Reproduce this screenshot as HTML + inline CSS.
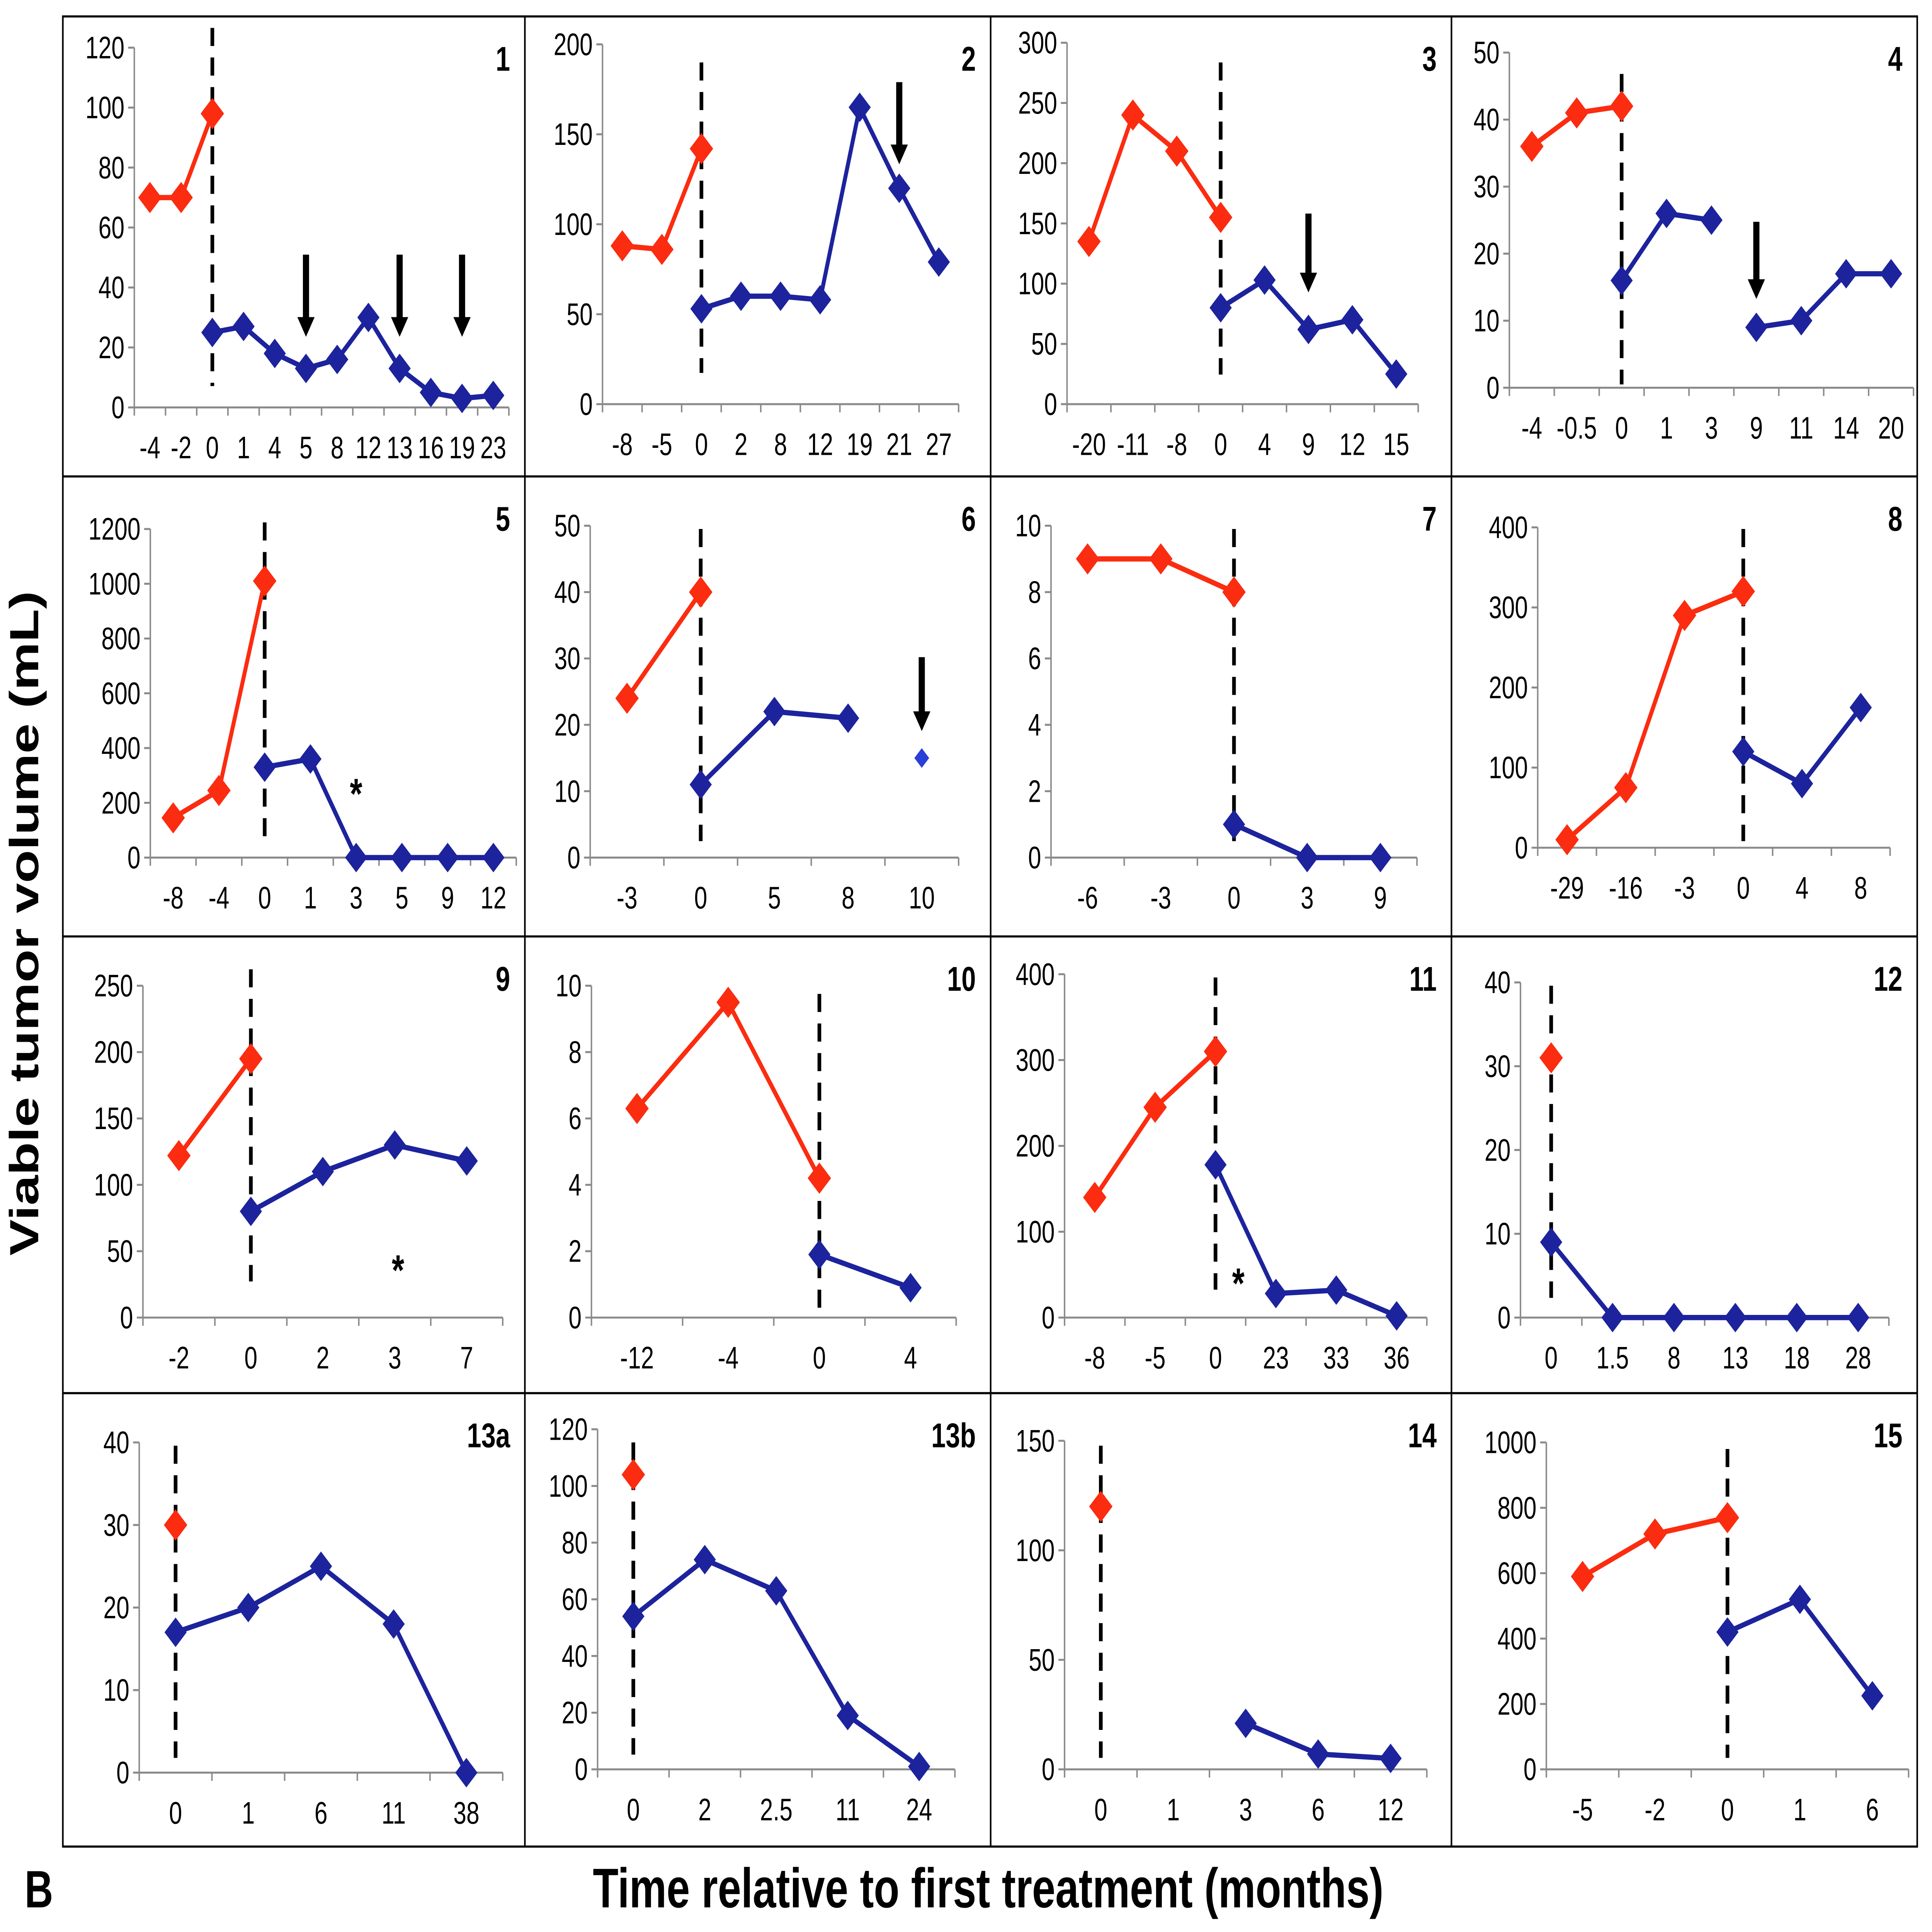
<!DOCTYPE html>
<html><head><meta charset="utf-8"><style>
html,body{margin:0;padding:0;background:#fff;overflow:hidden;width:100%;height:100%}
svg{display:block;position:absolute;left:0;top:0;width:100vw;height:100vh}
</style></head><body>
<svg id="chart" viewBox="0 0 1568 1176" preserveAspectRatio="none" xmlns="http://www.w3.org/2000/svg" font-family="Liberation Sans, Arial, sans-serif">
<rect x="0" y="0" width="1568" height="1176" fill="#fff"/>
<g id="grid" stroke="#000" stroke-width="1.3" fill="none">
<rect x="51" y="10" width="1505" height="1114"/>
<line x1="426" y1="10" x2="426" y2="1124"/><line x1="804" y1="10" x2="804" y2="1124"/><line x1="1178" y1="10" x2="1178" y2="1124"/>
<line x1="51" y1="290" x2="1556" y2="290"/><line x1="51" y1="570" x2="1556" y2="570"/><line x1="51" y1="848" x2="1556" y2="848"/>
</g>
<text x="0" y="0" transform="translate(31,562) rotate(-90)" text-anchor="middle" font-weight="bold" font-size="33">Viable tumor volume (mL)</text>
<text x="802" y="1161" text-anchor="middle" font-weight="bold" font-size="34">Time relative to first treatment (months)</text>
<text x="20" y="1161" font-weight="bold" font-size="32">B</text>
<g id="plots"></g>
</svg>
<script>
// ---- data ----
const p1Cats=["-4","-2","0","1","4","5","8","12","13","16","19","23"];
const p1Red=[70,70,98];
const p1Blue=[[2,25],[3,27],[4,18],[5,13],[6,16],[7,30],[8,13],[9,5],[10,3],[11,4]];
const p2Cats=["-8","-5","0","2","8","12","19","21","27"];
const p2Red=[88,86,142];
const p2Blue=[[2,53],[3,60],[4,60],[5,58],[6,165],[7,120],[8,79]];
const p3Cats=["-20","-11","-8","0","4","9","12","15"];
const p3Red=[135,240,210,155];
const p3Blue=[[3,80],[4,103],[5,62],[6,70],[7,25]];
const p4Cats=["-4","-0.5","0","1","3","9","11","14","20"];
const p4Red=[36,41,42];
const p4Blue=[[2,16],[3,26],[4,25]];
const p4Blue2=[[5,9],[6,10],[7,17],[8,17]];
const p5Cats=["-8","-4","0","1","3","5","9","12"];
const p5Red=[145,245,1010];
const p5Blue=[[2,330],[3,360],[4,0],[5,0],[6,0],[7,0]];
const p6Cats=["-3","0","5","8","10"];
const p6Red=[24,40];
const p6Blue=[[1,11],[2,22],[3,21]];
const p6Lone=[[4,15]];
const p7Cats=["-6","-3","0","3","9"];
const p7Red=[9,9,8];
const p7Blue=[[2,1],[3,0],[4,0]];
const p8Cats=["-29","-16","-3","0","4","8"];
const p8Red=[10,75,290,320];
const p8Blue=[[3,120],[4,80],[5,175]];
const p9Cats=["-2","0","2","3","7"];
const p9Red=[122,195];
const p9Blue=[[1,80],[2,110],[3,130],[4,118]];
const p10Cats=["-12","-4","0","4"];
const p10Red=[6.3,9.5,4.2];
const p10Blue=[[2,1.9],[3,0.9]];
const p11Cats=["-8","-5","0","23","33","36"];
const p11Red=[140,245,310];
const p11Blue=[[2,178],[3,28],[4,32],[5,2]];
const p12Cats=["0","1.5","8","13","18","28"];
const p12Red=[31];
const p12Blue=[[0,9],[1,0],[2,0],[3,0],[4,0],[5,0]];
const p13aCats=["0","1","6","11","38"];
const p13aRed=[30];
const p13aBlue=[[0,17],[1,20],[2,25],[3,18],[4,0]];
const p13bCats=["0","2","2.5","11","24"];
const p13bRed=[104];
const p13bBlue=[[0,54],[1,74],[2,63],[3,19],[4,1]];
const p14Cats=["0","1","3","6","12"];
const p14Red=[120];
const p14Blue=[[2,21],[3,7],[4,5]];
const p15Cats=["-5","-2","0","1","6"];
const p15Red=[590,720,770];
const p15Blue=[[2,420],[3,520],[4,225]];

const yMaxes=[120,200,300,50,1200,50,10,400,250,10,400,40,40,120,150,1000];
const yStepsList=[20,50,50,10,200,10,2,100,50,2,100,10,10,20,50,200];

// ---- layout (geometry only) ----
const panels=[
 {id:"1",cats:p1Cats,red:p1Red,blue:[p1Blue],dash:2,dashY:[17,235],arrows:[5,8,10],arrowY:[155,205],x0:109,x1:413,yb:248,yt:29,px:426,py:10},
 {id:"2",cats:p2Cats,red:p2Red,blue:[p2Blue],dash:2,dashY:[38,227],arrows:[7],arrowY:[50,100],x0:489,x1:778,yb:246,yt:27,px:804,py:10},
 {id:"3",cats:p3Cats,red:p3Red,blue:[p3Blue],dash:3,dashY:[38,228],arrows:[5],arrowY:[130,178],x0:866,x1:1151,yb:246,yt:26,px:1178,py:10},
 {id:"4",cats:p4Cats,red:p4Red,blue:[p4Blue,p4Blue2],dash:2,dashY:[45,234],arrows:[5],arrowY:[135,182],x0:1225,x1:1553,yb:236,yt:32,px:1556,py:10},
 {id:"5",cats:p5Cats,red:p5Red,blue:[p5Blue],dash:2,dashY:[318,512],star:[289,480],x0:122,x1:419,yb:522,yt:322,px:426,py:290},
 {id:"6",cats:p6Cats,red:p6Red,blue:[p6Blue],lone:p6Lone,dash:1,dashY:[322,512],arrows:[4],arrowY:[400,445],x0:479,x1:778,yb:522,yt:320,px:804,py:290},
 {id:"7",cats:p7Cats,red:p7Red,blue:[p7Blue],dash:2,dashY:[322,512],x0:853,x1:1150,yb:522,yt:320,px:1178,py:290},
 {id:"8",cats:p8Cats,red:p8Red,blue:[p8Blue],dash:3,dashY:[322,512],x0:1248,x1:1534,yb:516,yt:321,px:1556,py:290},
 {id:"9",cats:p9Cats,red:p9Red,blue:[p9Blue],dash:1,dashY:[590,780],star:[323,770],x0:116,x1:408,yb:802,yt:600,px:426,py:570},
 {id:"10",cats:p10Cats,red:p10Red,blue:[p10Blue],dash:2,dashY:[605,800],x0:480,x1:776,yb:802,yt:600,px:804,py:570},
 {id:"11",cats:p11Cats,red:p11Red,blue:[p11Blue],dash:2,dashY:[595,785],star:[1005,778],x0:864,x1:1158,yb:802,yt:593,px:1178,py:570},
 {id:"12",cats:p12Cats,red:p12Red,blue:[p12Blue],dash:0,dashY:[600,790],x0:1234,x1:1533,yb:802,yt:598,px:1556,py:570},
 {id:"13a",cats:p13aCats,red:p13aRed,blue:[p13aBlue],dash:0,dashY:[880,1070],x0:113,x1:408,yb:1079,yt:878,px:426,py:848},
 {id:"13b",cats:p13bCats,red:p13bRed,blue:[p13bBlue],dash:0,dashY:[878,1068],x0:485,x1:775,yb:1077,yt:870,px:804,py:848},
 {id:"14",cats:p14Cats,red:p14Red,blue:[p14Blue],dash:0,dashY:[880,1070],x0:864,x1:1158,yb:1077,yt:877,px:1178,py:848},
 {id:"15",cats:p15Cats,red:p15Red,blue:[p15Blue],dash:2,dashY:[882,1070],x0:1255,x1:1549,yb:1077,yt:878,px:1556,py:848}
];
const NS="http://www.w3.org/2000/svg";
const root=document.getElementById("plots");
const RED="#fb2c10",BLUE="#1c239c";
function mk(tag,attrs,parent){const e=document.createElementNS(NS,tag);for(const k in attrs)e.setAttribute(k,attrs[k]);parent.appendChild(e);return e;}
function diamond(x,y,r,c,parent){return mk("polygon",{points:`${x},${y-r} ${x+r},${y} ${x},${y+r} ${x-r},${y}`,fill:c},parent);}
panels.forEach((p,pi)=>{
  const g=mk("g",{},root);
  
  
  const n=p.cats.length, band=(p.x1-p.x0)/n;
  const xs=i=>p.x0+(i+0.5)*band;
  const ymax=yMaxes[pi], step=yStepsList[pi];
  const ys=v=>p.yb-(v/ymax)*(p.yb-p.yt);
  const ax=mk("line",{x1:p.x0,y1:p.yt,x2:p.x0,y2:p.yb,stroke:"#8a8a8a","stroke-width":1.2},g);
  
  
  const bx=mk("line",{x1:p.x0,y1:p.yb,x2:p.x1,y2:p.yb,stroke:"#8a8a8a","stroke-width":1.2},g);
  
  
  for(let v=0;v<=ymax+1e-9;v+=step){
    const y=ys(v);
    mk("line",{x1:p.x0-5,y1:y,x2:p.x0,y2:y,stroke:"#8a8a8a","stroke-width":1.2},g);
    const t=mk("text",{x:p.x0-8,y:y+6.5,"text-anchor":"end","font-size":19},g);
    t.textContent=String(v);
    
    
  }
  for(let i=0;i<=n;i++){mk("line",{x1:p.x0+i*band,y1:p.yb,x2:p.x0+i*band,y2:p.yb+5,stroke:"#8a8a8a","stroke-width":1.2},g);}
  p.cats.forEach((c,i)=>{
    const t=mk("text",{x:xs(i),y:p.yb+31,"text-anchor":"middle","font-size":19},g);
    t.textContent=c;
    
    
  });
  const lab=mk("text",{x:p.px-12,y:p.py+33,"text-anchor":"end","font-size":21,"font-weight":"bold"},g);
  lab.textContent=p.id;
  
  
  const dl=mk("line",{x1:xs(p.dash),y1:p.dashY[0],x2:xs(p.dash),y2:p.dashY[1],stroke:"#000","stroke-width":3,"stroke-dasharray":"11,7"},g);
  
  
  const rpts=p.red.map((v,i)=>[xs(i),ys(v)]);
  if(rpts.length>1){
    const pl=mk("polyline",{points:rpts.map(q=>q.join(",")).join(" "),fill:"none",stroke:RED,"stroke-width":3.2},g);
    
    
  }
  p.blue.forEach(s=>{
    const pts=s.map(([i,v])=>[xs(i),ys(v)]);
    const pl=mk("polyline",{points:pts.map(q=>q.join(",")).join(" "),fill:"none",stroke:BLUE,"stroke-width":3.2},g);
    
    
    pts.forEach(q=>{
      const d=diamond(q[0],q[1],9,BLUE,g);
      
      
    });
  });
  rpts.forEach(q=>{
    const d=diamond(q[0],q[1],9.5,RED,g);
    
    
  });
  if(p.lone){p.lone.forEach(([i,v])=>{
    const d=diamond(xs(i),ys(v),6,"#2a3fd8",g);
    
    
  });}
  (p.arrows||[]).forEach(i=>{
    const x=xs(i);
    const a=mk("g",{},g);
    
    
    mk("rect",{x:x-2.5,y:p.arrowY[0],width:5,height:p.arrowY[1]-p.arrowY[0]-10,fill:"#000"},a);
    mk("polygon",{points:`${x-7},${p.arrowY[1]-12} ${x+7},${p.arrowY[1]-12} ${x},${p.arrowY[1]}`,fill:"#000"},a);
  });
  if(p.star){
    const s=mk("text",{x:p.star[0],y:p.star[1]+12,"text-anchor":"middle","font-size":26,"font-weight":"bold"},g);
    s.textContent="*";
    
    
  }
});
</script>
</body></html>
